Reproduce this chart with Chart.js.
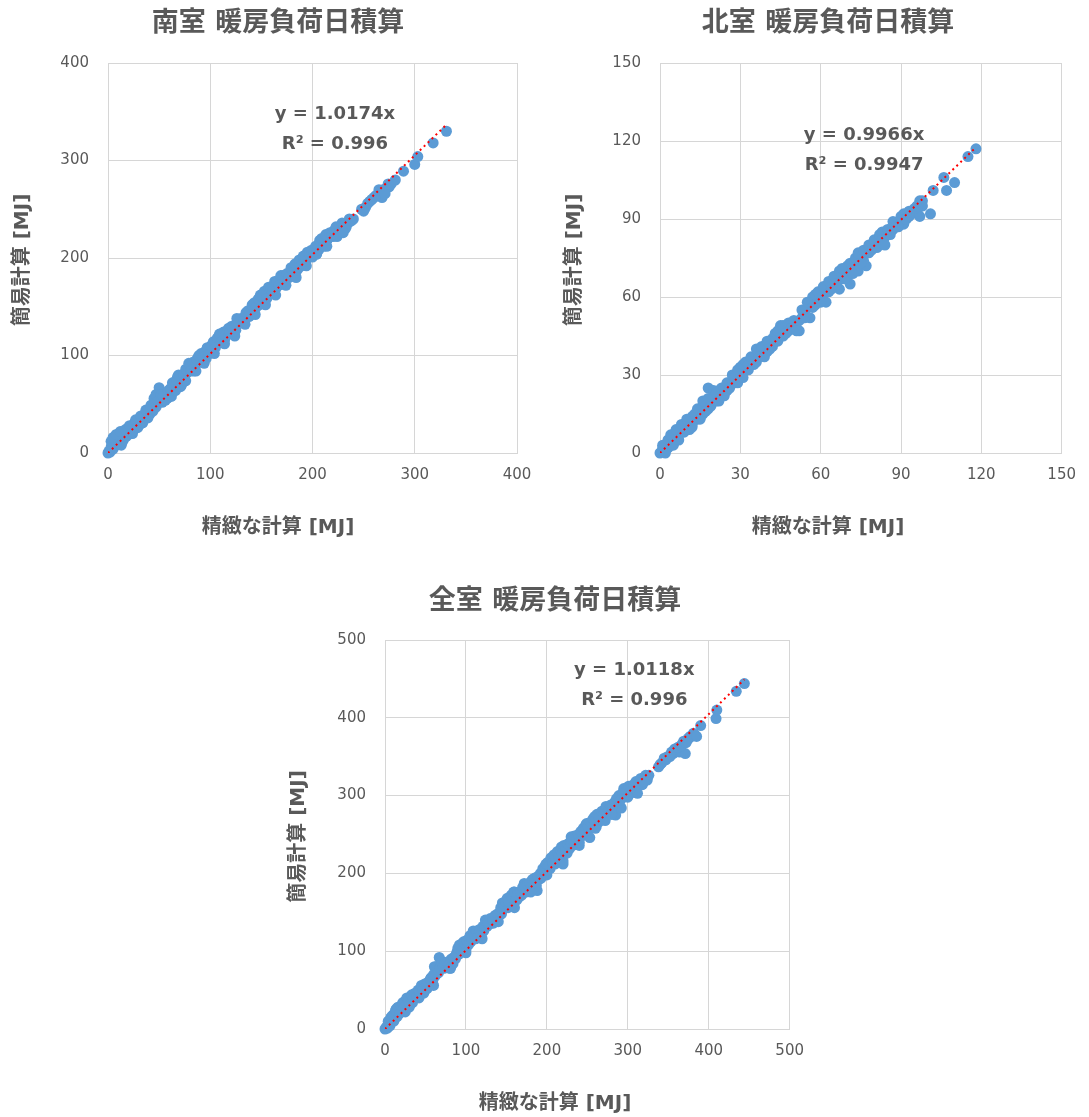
<!DOCTYPE html>
<html>
<head>
<meta charset="utf-8">
<script src="https://cdn.jsdelivr.net/npm/chart.js@4.4.1/dist/chart.umd.min.js"></script>
<style>
  body { margin: 0; background: #fff; width: 1089px; height: 1117px; position: relative; overflow: hidden; }
  .box { position: absolute; }
</style>
</head>
<body>
<div class="box" style="left:0;top:0"><canvas id="south" width="545" height="545"></canvas></div>
<div class="box" style="left:545px;top:0"><canvas id="north" width="544" height="545"></canvas></div>
<div class="box" style="left:272px;top:575px"><canvas id="all" width="545" height="542"></canvas></div>
<script>
const FONT = '"DejaVu Sans", "Noto Sans CJK JP", sans-serif';
const TEXT = '#595959';
const GRID = '#D6D6D6';
const BLUE = '#5B9BD5';

const titles = ['南室 暖房負荷日積算', '北室 暖房負荷日積算', '全室 暖房負荷日積算'];
const xAxisLabel = '精緻な計算 [MJ]';
const yAxisLabel = '簡易計算 [MJ]';
const slopes = [1.0174, 0.9966, 1.0118];
const r2Values = ['0.996', '0.9947', '0.996'];
const axisMax = [400, 150, 500];
const axisStep = [100, 30, 100];

// 南室
const southX = [0,1,2,3,4,5,6,7,8,9, 10,11,12,14,15,16,18,19,20,22, 23,25,26,28,30,31,33,35,36,38,
  40,41,43,44,46,47,48,50,51,53, 55,57,58,60,62,64,65,66,68,70, 71,73,75,77,78,80,82,84,86,88,
  90,92,94,96,98,100,102,104,106,108, 110,112,114,116,118,120,122,125,127,129, 131,134,136,138,140,142,144,146,148,150,
  152,154,156,158,160,162,164,166,168,170, 172,174,176,178,180,182,184,186,188,190, 192,194,196,198,200,202,204,206,208,210,
  212,214,216,218,220,222,225,228,230,232, 235,240,248,252,256,260,264,266,268,270, 272,275,281,289,300,303,318,331,
  3,5,8,12,13,17,21,24,27,29, 32,34,37,39,42,45,47,49,52,54, 56,59,61,63,67,69,72,74,76,79,
  81,83,85,87,89,91,93,95,97,99, 101,103,105,107,109,111,113,115,117,119, 121,124,126,128,130,133,135,137,139,141,
  143,145,147,149,151,153,155,157,159,161, 163,165,167,169,171,173,175,177,179,181, 183,185,187,189,191,193,195,197,199,201,
  203,205,207,209,211,213,215,217,219,221, 223,226,229,231,233,236,238,250,254,258, 262,265,269,271,274,277,
  62,66,76,86,94,104,114,124,134,144, 154,164,174,184,194,204,214,224,230];
const southY = [0,2,1,6,9,4,14,17,8,12, 18,10,16,20,13,21,17,25,22,20, 27,24,31,28,33,29,36,34,40,37,
  44,40,48,43,52,47,58,67,55,52, 60,58,56,62,61,71,66,69,78,72, 68,76,80,82,84,90,86,84,92,98,
  99,96,102,97,104,106,103,110,112,118, 113,120,116,124,128,122,126,126,137,136, 134,138,140,140,145,150,148,154,152,158,
  155,162,160,166,164,170,168,172,176,180, 176,180,182,182,184,192,186,189,196,194, 199,198,202,204,201,206,204,208,214,216,
  220,218,222,224,222,226,228,232,234,230, 236,240,250,252,258,262,264,266,262,270, 271,273,280,289,296,304,318,330,
  12,16,19,22,8,24,28,20,34,26, 38,31,44,36,49,56,60,53,60,58, 54,64,66,72,75,80,70,80,86,92,
  84,93,88,96,100,102,98,104,108,102, 110,114,108,118,122,114,124,120,126,124, 130,128,138,134,138,136,144,146,144,152,
  154,150,158,162,160,166,158,170,168,166, 176,176,172,182,182,178,184,180,190,186, 194,190,198,192,202,200,206,204,208,206,
  212,210,218,220,212,224,220,226,224,228, 232,226,236,234,232,240,238,248,256,260, 264,270,270,266,276,276,
  58,64,74,84,92,102,112,120,132,142, 152,162,172,180,192,204,212,222,226];

// 北室
const northX = [0,1,1,2,2,3,3,4,4,5, 5,6,6,7,8,8,9,10,10,11, 12,12,13,14,14,15,16,16,17,18,
  18,19,20,21,22,22,23,24,25,26, 27,28,28,29,30,30,31,32,33,34, 35,36,37,38,39,40,41,42,42,43,
  44,45,45,46,47,48,49,50,51,52, 53,54,55,56,56,57,58,59,60,61, 62,62,63,64,65,66,67,68,69,70,
  70,71,72,73,74,75,76,77,77,78, 79,80,81,82,83,84,85,86,87,88, 89,90,91,92,93,94,96,97,97,98,
  101,102,106,107,110,115,118,
  1,2,3,4,5,6,7,8,9,10, 11,12,13,14,15,16,17,18,19,20, 21,22,23,24,25,26,27,28,29,29,
  31,31,32,33,34,35,36,37,38,39, 40,41,43,44,46,47,48,49,50,51, 52,53,54,55,57,58,59,60,61,63,
  64,65,66,67,68,69,71,72,73,74, 75,76,78,79,80,81,82,83,84,85, 86,87,88,89,90,91,92,93,95,96,
  98];
const northY = [0,1,2,1,3,2,4,3,5,5, 7,6,8,7,9,10,8,11,9,12, 11,14,13,15,13,16,15,18,20,25,
  17,19,21,20,24,22,23,22,24,27, 28,27,30,29,33,30,31,33,32,34, 36,35,40,38,40,39,42,44,41,46,
  43,47,49,45,48,47,50,49,50,47, 52,54,56,52,58,60,57,59,62,61, 58,64,62,66,64,68,63,67,70,68,
  72,65,71,73,70,76,74,72,78,77, 80,79,81,80,85,83,84,86,86,88, 89,90,88,91,93,92,93,91,97,95,
  92,101,106,101,104,114,117,
  3,0,5,7,3,9,5,11,11,13, 9,10,15,17,13,20,16,21,18,24, 23,20,25,25,27,25,30,29,27,32,
  34,29,35,34,37,34,40,37,41,37, 43,40,43,47,49,46,50,48,51,47, 51,55,52,58,56,61,62,58,64,66,
  63,68,65,70,71,67,73,69,75,77, 73,78,80,78,82,79,84,82,80,86, 84,89,87,87,91,92,90,91,94,95,
  97];

// 全室
const allX = [0,2,3,5,6,8,9,11,12,14, 15,17,19,21,23,25,26,28,30,32, 34,36,38,40,42,44,46,48,50,52,
  55,57,59,61,62,64,66,67,69,71, 73,75,78,81,84,87,89,91,94,96, 98,100,102,104,106,108,110,112,114,116,
  118,120,122,124,126,128,131,134,137,140, 142,144,146,148,150,152,155,157,159,161, 163,166,169,172,174,177,180,183,186,188,
  190,193,196,198,200,202,204,206,208,210, 212,214,216,218,220,222,225,228,230,232, 235,238,240,243,246,248,250,253,256,259,
  261,264,267,270,272,275,278,280,283,285, 287,290,292,295,298,300,303,306,309,312, 315,318,321,324,338,342,347,352,356,360,
  364,367,371,374,377,379,383,390,409,410, 434,444,
  4,7,10,13,16,18,20,22,24,27, 29,31,33,35,37,39,41,43,45,47, 49,51,53,56,58,60,63,65,68,70,
  72,74,77,79,82,85,88,90,92,95, 97,99,101,103,105,107,109,111,113,115, 117,119,121,123,125,127,130,133,136,139,
  141,143,145,147,149,151,153,156,158,160, 162,164,167,170,173,176,179,182,185,187, 189,192,195,197,199,201,203,205,207,209,
  211,213,215,217,219,221,223,226,229,231, 234,237,239,242,245,247,249,251,254,257, 260,262,265,268,271,273,276,279,281,284,
  286,289,291,294,296,299,301,304,307,310, 313,316,319,322,326,340,345,349,354,358, 362,366,369,372,375,381,385,
  60,80,100,120,140,160,180,200,220,240, 260,280,300,320];
const allY = [0,3,1,8,4,16,12,10,20,26, 16,22,28,24,30,22,37,34,28,38, 34,44,42,46,40,48,52,46,54,52,
  60,66,62,80,68,74,72,92,88,84, 78,82,80,78,84,90,99,96,104,110, 106,102,110,115,112,118,123,116,122,120,
  124,128,126,140,132,134,138,136,142,146, 150,148,160,156,162,156,165,160,176,170, 166,170,172,187,176,180,186,182,184,178,
  192,194,202,210,204,208,206,216,221,212, 222,218,226,234,212,230,226,232,247,236, 240,244,236,248,250,262,254,246,264,273,
  260,266,270,276,268,284,282,276,280,275, 294,298,284,309,302,300,306,304,310,303, 318,314,322,320,337,342,346,350,354,358,
  356,366,354,372,376,376,378,390,399,410, 434,444,
  10,14,18,24,28,20,30,34,28,40, 36,32,44,40,46,42,50,48,56,50, 58,56,60,64,60,70,80,76,78,86,
  80,84,86,82,90,92,96,104,108,100, 112,110,114,108,120,116,126,120,126,118, 128,122,132,130,138,136,142,140,146,148,
  146,156,162,160,164,168,164,172,168,176, 166,174,176,182,184,186,188,192,194,184, 196,200,206,204,212,214,210,220,214,224,
  218,228,222,230,226,236,230,238,240,244, 248,246,250,254,258,254,264,260,266,270, 268,276,272,280,278,286,282,288,286,292,
  296,300,294,304,300,306,312,310,314,318, 316,322,320,326,326,340,348,350,356,360, 362,364,370,368,374,380,376,
  56,78,98,116,138,156,176,198,216,240, 258,276,298,318];

// titles, axis titles and the trendline equation, drawn on the canvas
const chartText = {
  id: 'chartText',
  afterDatasetsDraw(chart, args, opts) {
    const { ctx, scales, chartArea } = chart;
    ctx.save();
    ctx.fillStyle = TEXT;
    ctx.textAlign = 'center';
    ctx.textBaseline = 'middle';
    ctx.font = 'bold 27px ' + FONT;
    ctx.fillText(opts.title, opts.centerX, opts.titleY);
    ctx.font = 'bold 20px ' + FONT;
    ctx.fillText(xAxisLabel, opts.centerX, opts.xTitleY);
    ctx.save();
    ctx.translate(opts.yTitleX, (chartArea.top + chartArea.bottom) / 2 + 2);
    ctx.rotate(-Math.PI / 2);
    ctx.fillText(yAxisLabel, 0, 0);
    ctx.restore();
    const px = scales.x.getPixelForValue(opts.eqX);
    const py = scales.y.getPixelForValue(opts.eqY);
    ctx.font = 'bold 18px ' + FONT;
    opts.lines.forEach((t, k) => ctx.fillText(t, px, py + k * 30));
    ctx.restore();
  }
};

function makeChart(id, i, xs, ys, box) {
  const canvas = document.getElementById(id);
  const W = canvas.width, H = canvas.height;
  const points = xs.map((x, k) => ({ x: x, y: ys[k] }));
  const maxX = Math.max(...xs);
  const trend = [{ x: 0, y: 0 }, { x: maxX, y: slopes[i] * maxX }];

  const axis = () => ({
    type: 'linear',
    min: 0,
    max: axisMax[i],
    ticks: { stepSize: axisStep[i], color: TEXT, font: { family: FONT, size: 15 } },
    grid: { color: GRID, lineWidth: 1, drawTicks: false },
    border: { color: GRID, width: 1 }
  });
  const x = axis();
  x.ticks.padding = 13;
  x.afterFit = (s) => { s.height = H - box.bottom; };
  const y = axis();
  y.ticks.padding = 19;
  y.afterFit = (s) => { s.width = box.left; };

  return new Chart(canvas, {
    type: 'scatter',
    data: {
      datasets: [
        { data: trend, showLine: true, borderColor: '#FF0000', borderWidth: 2, borderDash: [2, 3.5],
          pointRadius: 0, pointHoverRadius: 0, order: 0 },
        { data: points, backgroundColor: BLUE, borderWidth: 0, pointRadius: 5.5, pointHoverRadius: 5.5,
          clip: false, order: 1 }
      ]
    },
    options: {
      responsive: false,
      animation: false,
      events: [],
      layout: { padding: { left: 0, right: W - box.right, top: box.top, bottom: 0 } },
      plugins: {
        legend: { display: false },
        tooltip: { enabled: false },
        chartText: {
          title: titles[i], centerX: box.centerX, titleY: box.titleY,
          xTitleY: box.xTitleY, yTitleX: box.yTitleX,
          eqX: box.eqX, eqY: box.eqY,
          lines: ['y = ' + slopes[i] + 'x', 'R² = ' + r2Values[i]]
        }
      },
      scales: { x: x, y: y }
    },
    plugins: [chartText]
  });
}

makeChart('south', 0, southX, southY, { left: 108, right: 517, top: 63, bottom: 453,
  centerX: 278, titleY: 24, xTitleY: 528, yTitleX: 23, eqX: 222, eqY: 347 });
makeChart('north', 1, northX, northY, { left: 115, right: 523, top: 63, bottom: 453,
  centerX: 283, titleY: 24, xTitleY: 528, yTitleX: 30, eqX: 76.2, eqY: 122 });
makeChart('all', 2, allX, allY, { left: 113, right: 522, top: 65, bottom: 454,
  centerX: 283, titleY: 27, xTitleY: 529, yTitleX: 27, eqX: 308, eqY: 461 });
</script>
</body>
</html>
